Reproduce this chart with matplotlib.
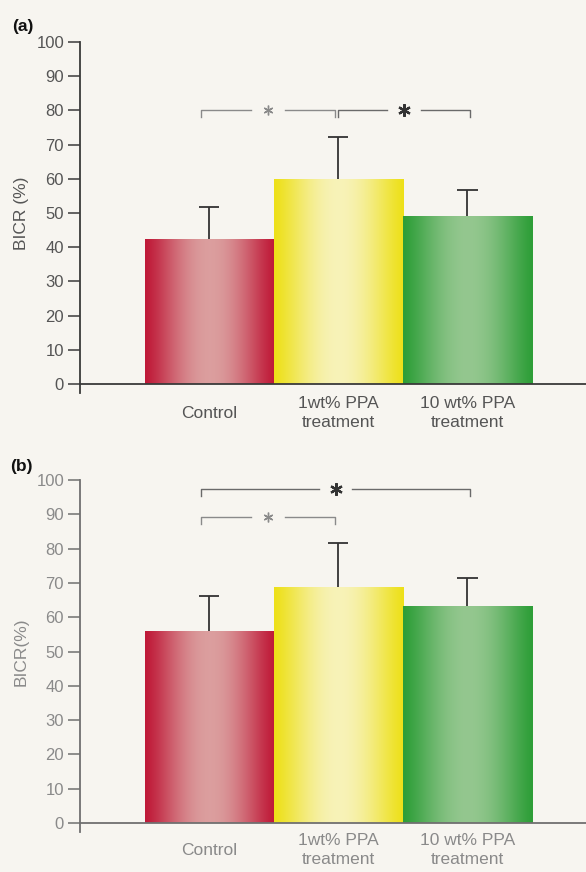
import numpy as np
import matplotlib
matplotlib.use("Agg")
import matplotlib.pyplot as plt
from matplotlib.lines import Line2D

plt.rcParams['font.family'] = ['Liberation Sans', 'DejaVu Sans']

# ---------------- data ----------------
categories = ["Control", "1wt% PPA\ntreatment", "10 wt% PPA\ntreatment"]
yticks = [0, 10, 20, 30, 40, 50, 60, 70, 80, 90, 100]

bicr_a = [42.3, 59.8, 49.2]
err_a = [9.5, 12.5, 7.5]
brackets_a = [(0, 1, 80.0, "small"), (1, 2, 80.0, "big")]

bicr_b = [56.0, 68.9, 63.3]
err_b = [10.3, 12.8, 8.0]
brackets_b = [(0, 2, 97.3, "big"), (0, 1, 89.3, "small")]

# ---------------- style ----------------
edge_cols = [(0.75, 0.10, 0.22), (0.93, 0.88, 0.10), (0.18, 0.62, 0.22)]
center_cols = [(0.86, 0.62, 0.62), (0.97, 0.95, 0.72), (0.58, 0.78, 0.56)]
BG = '#f7f5f0'

fig = plt.figure(figsize=(5.86, 8.72), dpi=100, facecolor=BG)
W, H = 586.0, 872.0


def gradient_bars(ax, bars):
    t = np.linspace(0, 1, 200)
    w = np.sin(np.pi * t) ** 1.3
    for k, p in enumerate(bars):
        e = np.array(edge_cols[k]); c = np.array(center_cols[k])
        img = e[None, :] * (1 - w[:, None]) + c[None, :] * w[:, None]
        img = img[None, :, :]
        x0, y0 = p.get_x(), p.get_y()
        im = ax.imshow(img, extent=(x0, x0 + p.get_width(), y0, y0 + p.get_height()),
                       aspect='auto', interpolation='bilinear', zorder=2)
        im.set_clip_path(p)


def draw_panel(ax, vals, errs, brackets, dark, lab_pad, ylab):
    x = np.arange(len(vals))
    vals = np.asarray(vals); errs = np.asarray(errs)
    bars = ax.bar(x, vals, width=1.0, color='none', edgecolor='none', zorder=2)
    gradient_bars(ax, bars)
    # upward-only error bars
    ax.vlines(x, vals, vals + errs, color='#333333', lw=1.3, zorder=3)
    ax.hlines(vals + errs, x - 0.08, x + 0.08, color='#333333', lw=1.3, zorder=3)
    ax.set_xlim(-1.0, 2.92)
    ax.set_ylim(0, 100)
    ax.set_facecolor(BG)
    for s in ['top', 'right']:
        ax.spines[s].set_visible(False)
    spc = '#3a3a3a' if dark else '#707070'
    txc = '#555555' if dark else '#8a8a8a'
    for s in ['left', 'bottom']:
        ax.spines[s].set_color(spc)
        ax.spines[s].set_linewidth(1.3)
        ax.spines[s].set_zorder(4)
    # axis extension below zero
    ax.add_line(Line2D([-1.0, -1.0], [0, -2.6], color=spc, lw=1.3, clip_on=False))
    ax.set_yticks(yticks)
    ax.tick_params(axis='y', direction='out', length=8.5, width=1.1, color=spc,
                   labelsize=12, labelcolor=txc, pad=3)
    ax.set_xticks(x)
    ax.set_xticklabels(categories, fontsize=12.5, color=txc, linespacing=1.3)
    for lbl in ax.get_xticklabels():
        lbl.set_va('center')
    ax.tick_params(axis='x', length=0, pad=lab_pad)
    ax.set_ylabel(ylab, fontsize=12.5, color=txc, va='center')
    ax.yaxis.set_label_coords(-0.1166, 0.5)
    # significance brackets
    for (i, j, y, kind) in brackets:
        x1 = i - 0.06 if i == 0 else i + 0.0
        x2 = j + 0.02 if j == 2 else j - 0.025
        xm = (x1 + x2) / 2
        gap = 0.13
        lc = '#8a8a8a' if kind == 'small' else '#6a6a6a'
        ax.plot([x1, x1, xm - gap], [y - 2, y, y], color=lc, lw=1.0, zorder=3)
        ax.plot([xm + gap, x2, x2], [y, y, y - 2], color=lc, lw=1.0, zorder=3)
        if kind == 'small':
            ax.plot([xm], [y], marker=(6, 2, 0), ms=7, mew=1.0, color='#8a8a8a', zorder=3)
        else:
            ax.plot([xm], [y], marker=(6, 2, 0), ms=9, mew=1.6, color='#333333', zorder=3)


ax_a = fig.add_axes([80 / W, 1 - 384 / H, 506 / W, 342 / H])
draw_panel(ax_a, bicr_a, err_a, brackets_a, True, 21, "BICR (%)")
ax_b = fig.add_axes([80 / W, 1 - 823 / H, 506 / W, 343 / H])
draw_panel(ax_b, bicr_b, err_b, brackets_b, False, 19.5, "BICR(%)")

fig.text(12 / W, 1 - 26 / H, "(a)", fontsize=12.5, fontweight='bold', va='center', ha='left', color='#111111')
fig.text(10 / W, 1 - 466 / H, "(b)", fontsize=12.5, fontweight='bold', va='center', ha='left', color='#111111')

fig.savefig("out.png", dpi=100, facecolor=BG)
